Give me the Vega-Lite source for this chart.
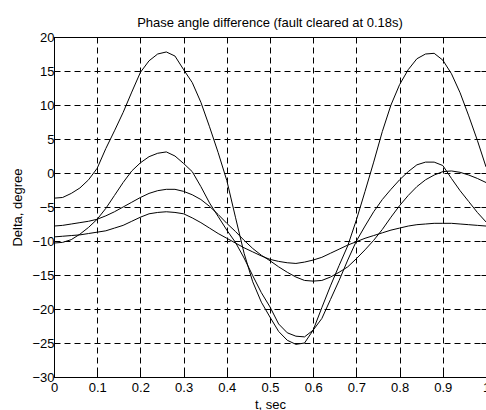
{
  "$schema": "https://vega.github.io/schema/vega-lite/v6.json",
  "width": 432,
  "height": 340,
  "autosize": {"type": "none"},
  "padding": {"left": 54, "top": 37, "right": 0, "bottom": 33},
  "background": "white",
  "title": {"text": "Phase angle difference (fault cleared at 0.18s)", "fontSize": 13, "fontWeight": "normal", "font": "Liberation Sans", "color": "black", "offset": 1, "anchor": "middle"},
  "config": {
    "view": {"stroke": "black", "strokeWidth": 1},
    "axis": {
      "domainColor": "black", "tickColor": "black", "gridColor": "black", "gridDash": [6, 4], "gridOpacity": 1, "gridWidth": 1,
      "labelColor": "black", "labelFont": "Liberation Sans", "labelFontSize": 13, "titleFont": "Liberation Sans", "titleFontSize": 13,
      "titleFontWeight": "normal", "titleColor": "black", "tickSize": -5, "labelFlush": false, "labelOverlap": false
    }
  },
  "data": {"values": [
    {"s":"A","t":0,"v":-3.7},{"s":"A","t":0.02,"v":-3.6},{"s":"A","t":0.04,"v":-3.0},{"s":"A","t":0.06,"v":-2.2},{"s":"A","t":0.08,"v":-1.0},{"s":"A","t":0.1,"v":0.7},{"s":"A","t":0.12,"v":3.6},{"s":"A","t":0.14,"v":6.2},{"s":"A","t":0.16,"v":8.9},{"s":"A","t":0.18,"v":11.9},{"s":"A","t":0.2,"v":14.8},{"s":"A","t":0.22,"v":16.5},{"s":"A","t":0.24,"v":17.5},{"s":"A","t":0.26,"v":17.8},{"s":"A","t":0.28,"v":17.2},{"s":"A","t":0.3,"v":15.2},{"s":"A","t":0.32,"v":13.3},{"s":"A","t":0.34,"v":10.4},{"s":"A","t":0.36,"v":6.8},{"s":"A","t":0.38,"v":3.0},{"s":"A","t":0.4,"v":-1.1},{"s":"A","t":0.42,"v":-6.5},{"s":"A","t":0.44,"v":-11.8},{"s":"A","t":0.46,"v":-16.0},{"s":"A","t":0.48,"v":-19.0},{"s":"A","t":0.5,"v":-21.2},{"s":"A","t":0.52,"v":-23.3},{"s":"A","t":0.54,"v":-24.6},{"s":"A","t":0.56,"v":-25.2},{"s":"A","t":0.58,"v":-25.0},{"s":"A","t":0.6,"v":-23.1},{"s":"A","t":0.62,"v":-19.8},{"s":"A","t":0.64,"v":-16.6},{"s":"A","t":0.66,"v":-13.6},{"s":"A","t":0.68,"v":-10.7},{"s":"A","t":0.7,"v":-6.9},{"s":"A","t":0.72,"v":-2.7},{"s":"A","t":0.74,"v":1.6},{"s":"A","t":0.76,"v":6.1},{"s":"A","t":0.78,"v":10.0},{"s":"A","t":0.8,"v":13.0},{"s":"A","t":0.82,"v":15.2},{"s":"A","t":0.84,"v":16.8},{"s":"A","t":0.86,"v":17.5},{"s":"A","t":0.88,"v":17.6},{"s":"A","t":0.9,"v":16.6},{"s":"A","t":0.92,"v":14.6},{"s":"A","t":0.94,"v":11.8},{"s":"A","t":0.96,"v":8.4},{"s":"A","t":0.98,"v":4.8},{"s":"A","t":1,"v":0.9},
    {"s":"B","t":0,"v":-10.3},{"s":"B","t":0.02,"v":-10.2},{"s":"B","t":0.04,"v":-9.8},{"s":"B","t":0.06,"v":-9.0},{"s":"B","t":0.08,"v":-8.0},{"s":"B","t":0.1,"v":-6.8},{"s":"B","t":0.12,"v":-5.2},{"s":"B","t":0.14,"v":-3.3},{"s":"B","t":0.16,"v":-1.4},{"s":"B","t":0.18,"v":0.3},{"s":"B","t":0.2,"v":1.5},{"s":"B","t":0.22,"v":2.4},{"s":"B","t":0.24,"v":2.9},{"s":"B","t":0.26,"v":3.1},{"s":"B","t":0.28,"v":2.5},{"s":"B","t":0.3,"v":1.4},{"s":"B","t":0.32,"v":0.2},{"s":"B","t":0.34,"v":-2.0},{"s":"B","t":0.36,"v":-4.4},{"s":"B","t":0.38,"v":-6.4},{"s":"B","t":0.4,"v":-8.4},{"s":"B","t":0.42,"v":-10.2},{"s":"B","t":0.44,"v":-12.5},{"s":"B","t":0.46,"v":-15.1},{"s":"B","t":0.48,"v":-17.6},{"s":"B","t":0.5,"v":-19.7},{"s":"B","t":0.52,"v":-22.2},{"s":"B","t":0.54,"v":-23.5},{"s":"B","t":0.56,"v":-24.0},{"s":"B","t":0.58,"v":-24.1},{"s":"B","t":0.6,"v":-23.1},{"s":"B","t":0.62,"v":-21.4},{"s":"B","t":0.64,"v":-18.6},{"s":"B","t":0.66,"v":-15.8},{"s":"B","t":0.68,"v":-12.8},{"s":"B","t":0.7,"v":-10.0},{"s":"B","t":0.72,"v":-7.8},{"s":"B","t":0.74,"v":-5.7},{"s":"B","t":0.76,"v":-3.9},{"s":"B","t":0.78,"v":-2.4},{"s":"B","t":0.8,"v":-1.0},{"s":"B","t":0.82,"v":0.2},{"s":"B","t":0.84,"v":1.2},{"s":"B","t":0.86,"v":1.6},{"s":"B","t":0.88,"v":1.6},{"s":"B","t":0.9,"v":1.1},{"s":"B","t":0.92,"v":-0.8},{"s":"B","t":0.94,"v":-2.6},{"s":"B","t":0.96,"v":-4.2},{"s":"B","t":0.98,"v":-5.8},{"s":"B","t":1,"v":-7.2},
    {"s":"C","t":0,"v":-7.8},{"s":"C","t":0.02,"v":-7.7},{"s":"C","t":0.04,"v":-7.5},{"s":"C","t":0.06,"v":-7.3},{"s":"C","t":0.08,"v":-7.1},{"s":"C","t":0.1,"v":-6.8},{"s":"C","t":0.12,"v":-6.3},{"s":"C","t":0.14,"v":-5.7},{"s":"C","t":0.16,"v":-5.0},{"s":"C","t":0.18,"v":-4.3},{"s":"C","t":0.2,"v":-3.6},{"s":"C","t":0.22,"v":-3.0},{"s":"C","t":0.24,"v":-2.6},{"s":"C","t":0.26,"v":-2.4},{"s":"C","t":0.28,"v":-2.4},{"s":"C","t":0.3,"v":-2.7},{"s":"C","t":0.32,"v":-3.2},{"s":"C","t":0.34,"v":-3.9},{"s":"C","t":0.36,"v":-4.9},{"s":"C","t":0.38,"v":-6.1},{"s":"C","t":0.4,"v":-7.4},{"s":"C","t":0.42,"v":-8.6},{"s":"C","t":0.44,"v":-9.9},{"s":"C","t":0.46,"v":-11.1},{"s":"C","t":0.48,"v":-12.1},{"s":"C","t":0.5,"v":-12.9},{"s":"C","t":0.52,"v":-13.8},{"s":"C","t":0.54,"v":-14.6},{"s":"C","t":0.56,"v":-15.3},{"s":"C","t":0.58,"v":-15.8},{"s":"C","t":0.6,"v":-15.9},{"s":"C","t":0.62,"v":-15.8},{"s":"C","t":0.64,"v":-15.3},{"s":"C","t":0.66,"v":-14.6},{"s":"C","t":0.68,"v":-13.8},{"s":"C","t":0.7,"v":-12.6},{"s":"C","t":0.72,"v":-11.3},{"s":"C","t":0.74,"v":-9.9},{"s":"C","t":0.76,"v":-8.3},{"s":"C","t":0.78,"v":-6.5},{"s":"C","t":0.8,"v":-4.8},{"s":"C","t":0.82,"v":-3.3},{"s":"C","t":0.84,"v":-2.0},{"s":"C","t":0.86,"v":-1.0},{"s":"C","t":0.88,"v":-0.3},{"s":"C","t":0.9,"v":0.2},{"s":"C","t":0.92,"v":0.3},{"s":"C","t":0.94,"v":0.1},{"s":"C","t":0.96,"v":-0.3},{"s":"C","t":0.98,"v":-0.8},{"s":"C","t":1,"v":-1.4},
    {"s":"D","t":0,"v":-9.4},{"s":"D","t":0.02,"v":-9.3},{"s":"D","t":0.04,"v":-9.2},{"s":"D","t":0.06,"v":-9.1},{"s":"D","t":0.08,"v":-8.9},{"s":"D","t":0.1,"v":-8.7},{"s":"D","t":0.12,"v":-8.5},{"s":"D","t":0.14,"v":-8.1},{"s":"D","t":0.16,"v":-7.7},{"s":"D","t":0.18,"v":-7.1},{"s":"D","t":0.2,"v":-6.5},{"s":"D","t":0.22,"v":-6.0},{"s":"D","t":0.24,"v":-5.8},{"s":"D","t":0.26,"v":-5.7},{"s":"D","t":0.28,"v":-5.8},{"s":"D","t":0.3,"v":-6.0},{"s":"D","t":0.32,"v":-6.6},{"s":"D","t":0.34,"v":-7.3},{"s":"D","t":0.36,"v":-8.1},{"s":"D","t":0.38,"v":-8.9},{"s":"D","t":0.4,"v":-9.6},{"s":"D","t":0.42,"v":-10.3},{"s":"D","t":0.44,"v":-11.0},{"s":"D","t":0.46,"v":-11.6},{"s":"D","t":0.48,"v":-12.2},{"s":"D","t":0.5,"v":-12.7},{"s":"D","t":0.52,"v":-13.0},{"s":"D","t":0.54,"v":-13.2},{"s":"D","t":0.56,"v":-13.3},{"s":"D","t":0.58,"v":-13.1},{"s":"D","t":0.6,"v":-12.8},{"s":"D","t":0.62,"v":-12.4},{"s":"D","t":0.64,"v":-11.8},{"s":"D","t":0.66,"v":-11.2},{"s":"D","t":0.68,"v":-10.6},{"s":"D","t":0.7,"v":-10.1},{"s":"D","t":0.72,"v":-9.6},{"s":"D","t":0.74,"v":-9.2},{"s":"D","t":0.76,"v":-8.8},{"s":"D","t":0.78,"v":-8.4},{"s":"D","t":0.8,"v":-8.1},{"s":"D","t":0.82,"v":-7.8},{"s":"D","t":0.84,"v":-7.6},{"s":"D","t":0.86,"v":-7.5},{"s":"D","t":0.88,"v":-7.4},{"s":"D","t":0.9,"v":-7.4},{"s":"D","t":0.92,"v":-7.4},{"s":"D","t":0.94,"v":-7.5},{"s":"D","t":0.96,"v":-7.6},{"s":"D","t":0.98,"v":-7.7},{"s":"D","t":1,"v":-7.8}
  ]},
  "layer": [
    {
      "mark": {"type": "line", "color": "black", "strokeWidth": 1},
      "encoding": {
        "x": {"field": "t", "type": "quantitative", "scale": {"domain": [0, 1], "nice": false, "zero": false},
          "axis": {"title": "t, sec", "values": [0, 0.1, 0.2, 0.3, 0.4, 0.5, 0.6, 0.7, 0.8, 0.9, 1], "format": "~g", "labelPadding": 9, "titlePadding": 4}},
        "y": {"field": "v", "type": "quantitative", "scale": {"domain": [-30, 20], "nice": false, "zero": false},
          "axis": {"title": "Delta, degree", "values": [-30, -25, -20, -15, -10, -5, 0, 5, 10, 15, 20], "format": "~g", "labelPadding": 5, "titlePadding": 7}},
        "detail": {"field": "s", "type": "nominal"}
      }
    },
    {
      "mark": {"type": "line", "opacity": 0},
      "encoding": {
        "x": {"field": "t", "type": "quantitative",
          "axis": {"orient": "top", "title": null, "labels": false, "grid": false, "values": [0, 0.1, 0.2, 0.3, 0.4, 0.5, 0.6, 0.7, 0.8, 0.9, 1]}},
        "y": {"field": "v", "type": "quantitative",
          "axis": {"orient": "right", "title": null, "labels": false, "grid": false, "values": [-30, -25, -20, -15, -10, -5, 0, 5, 10, 15, 20]}},
        "detail": {"field": "s", "type": "nominal"}
      }
    }
  ],
  "resolve": {"axis": {"x": "independent", "y": "independent"}}
}
